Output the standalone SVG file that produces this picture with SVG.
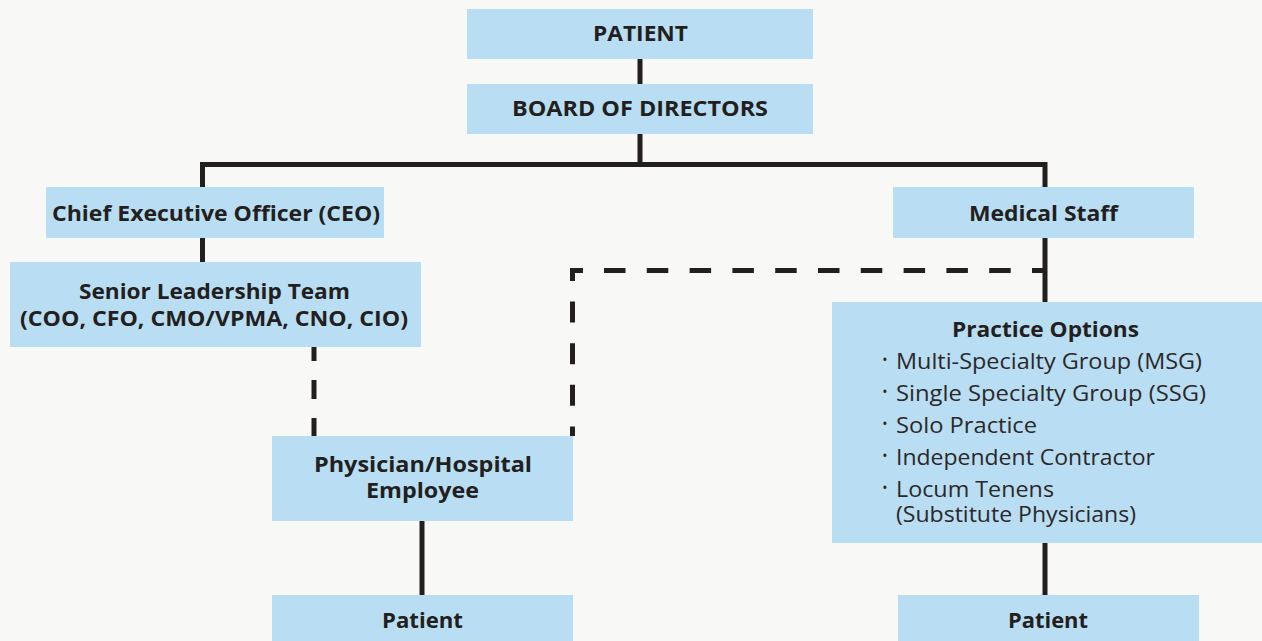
<svg xmlns="http://www.w3.org/2000/svg" width="1262" height="641" viewBox="0 0 1262 641">
  <style>
    .box { fill: #b9def4; }
    .t { font-family: "Open Sans", "Liberation Sans", sans-serif; fill: #231f20; text-anchor: middle; }
    .b { font-weight: 700; font-size: 22px; }
    .r { font-family: "Open Sans", "Liberation Sans", sans-serif; fill: #2b2829; font-size: 22px; font-weight: 400; }
    .dot { font-family: "Open Sans", "Liberation Sans", sans-serif; fill: #2b2829; font-size: 14px; text-anchor: middle; }
    .solid { fill: none; stroke: #231f20; stroke-width: 5; }
    .dash { fill: none; stroke: #231f20; stroke-width: 5; }
  </style>
  <rect width="1262" height="641" fill="#f8f8f6"/>

  <g id="connectors">
    <path class="solid" d="M640 59 V84 M640 134 V164.5"/>
    <path class="solid" d="M202.5 187 V164.5 H1045 V302"/>
    <path class="solid" d="M202.5 238 V262"/>
    <path class="solid" d="M1045 543 V595"/>
    <path class="solid" d="M422 521 V595"/>
    <path class="dash" d="M314 347 V436" stroke-dasharray="19 19" stroke-dashoffset="5"/>
    <path class="dash" d="M1045 270.5 H583" stroke-dasharray="21.5 21.3" stroke-dashoffset="8.5"/>
    <path class="dash" d="M583 270.5 H572.5 V436" stroke-dasharray="21 20.6"/>
  </g>

  <g id="patient-top">
    <rect class="box" x="467" y="9" width="346" height="50"/>
    <text class="t b" x="640.5" y="41" textLength="95" lengthAdjust="spacingAndGlyphs">PATIENT</text>
  </g>
  <g id="board">
    <rect class="box" x="467" y="84" width="346" height="50"/>
    <text class="t b" x="640" y="116" textLength="256" lengthAdjust="spacingAndGlyphs">BOARD OF DIRECTORS</text>
  </g>
  <g id="ceo">
    <rect class="box" x="46" y="187" width="338" height="51"/>
    <text class="t b" x="216" y="221" textLength="328" lengthAdjust="spacingAndGlyphs">Chief Executive Officer (CEO)</text>
  </g>
  <g id="senior-leadership">
    <rect class="box" x="10" y="262" width="411" height="85"/>
    <text class="t b" x="214.5" y="299" textLength="271" lengthAdjust="spacingAndGlyphs">Senior Leadership Team</text>
    <text class="t b" x="214" y="326" textLength="388" lengthAdjust="spacingAndGlyphs">(COO, CFO, CMO/VPMA, CNO, CIO)</text>
  </g>
  <g id="medical-staff">
    <rect class="box" x="893" y="187" width="301" height="51"/>
    <text class="t b" x="1043.5" y="221" textLength="149" lengthAdjust="spacingAndGlyphs">Medical Staff</text>
  </g>
  <g id="practice-options">
    <rect class="box" x="832" y="302" width="430" height="241"/>
    <text class="t b" x="1045.5" y="337" textLength="187" lengthAdjust="spacingAndGlyphs">Practice Options</text>
    <text class="dot" x="885" y="365">•</text>
    <text class="r" x="896" y="369" textLength="306" lengthAdjust="spacingAndGlyphs">Multi-Specialty Group (MSG)</text>
    <text class="dot" x="885" y="397">•</text>
    <text class="r" x="896" y="401" textLength="310" lengthAdjust="spacingAndGlyphs">Single Specialty Group (SSG)</text>
    <text class="dot" x="885" y="429">•</text>
    <text class="r" x="896" y="433" textLength="141" lengthAdjust="spacingAndGlyphs">Solo Practice</text>
    <text class="dot" x="885" y="461">•</text>
    <text class="r" x="896" y="465" textLength="259" lengthAdjust="spacingAndGlyphs">Independent Contractor</text>
    <text class="dot" x="885" y="493">•</text>
    <text class="r" x="896" y="497" textLength="158" lengthAdjust="spacingAndGlyphs">Locum Tenens</text>
    <text class="r" x="896" y="522" textLength="240" lengthAdjust="spacingAndGlyphs">(Substitute Physicians)</text>
  </g>
  <g id="physician-employee">
    <rect class="box" x="272" y="436" width="301" height="85"/>
    <text class="t b" x="423" y="472" textLength="218" lengthAdjust="spacingAndGlyphs">Physician/Hospital</text>
    <text class="t b" x="422.5" y="498" textLength="113" lengthAdjust="spacingAndGlyphs">Employee</text>
  </g>
  <g id="patient-left">
    <rect class="box" x="272" y="595" width="301" height="50"/>
    <text class="t b" x="422.5" y="628" textLength="81" lengthAdjust="spacingAndGlyphs">Patient</text>
  </g>
  <g id="patient-right">
    <rect class="box" x="898" y="595" width="301" height="50"/>
    <text class="t b" x="1048" y="628" textLength="80" lengthAdjust="spacingAndGlyphs">Patient</text>
  </g>
</svg>
